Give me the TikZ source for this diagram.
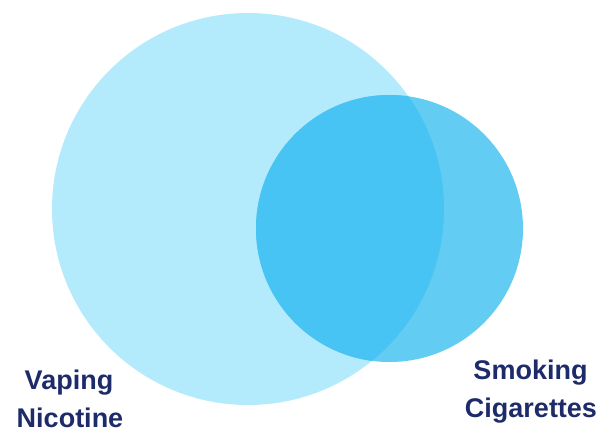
\documentclass[tikz,border=0pt]{standalone}
\usepackage{fontspec}
\setmainfont{Liberation Sans}
\definecolor{bigc}{HTML}{B3EAFC}
\definecolor{smallc}{HTML}{62CCF2}
\definecolor{overc}{HTML}{47C4F3}
\definecolor{navy}{HTML}{1E2B6A}
\begin{document}
\begin{tikzpicture}[x=1pt,y=1pt,
  lab/.style={anchor=base,inner sep=0pt,text=navy,font=\bfseries\fontsize{27}{27}\selectfont}]
\useasboundingbox (0,0) rectangle (613,434);
\fill[bigc] (248,225) circle (196);
\fill[smallc] (389.5,205.5) circle (133.5);
\begin{scope}
\clip (248,225) circle (196);
\fill[overc] (389.5,205.5) circle (133.5);
\end{scope}
\node[lab] (v) at (69,45) {Vaping};
\node[lab] (n) at (70,7) {Nicotine};
\node[lab] (s) at (530.5,55) {Smoking};
\node[lab] (c) at (531,17) {Cigarettes};
\end{tikzpicture}
\end{document}
